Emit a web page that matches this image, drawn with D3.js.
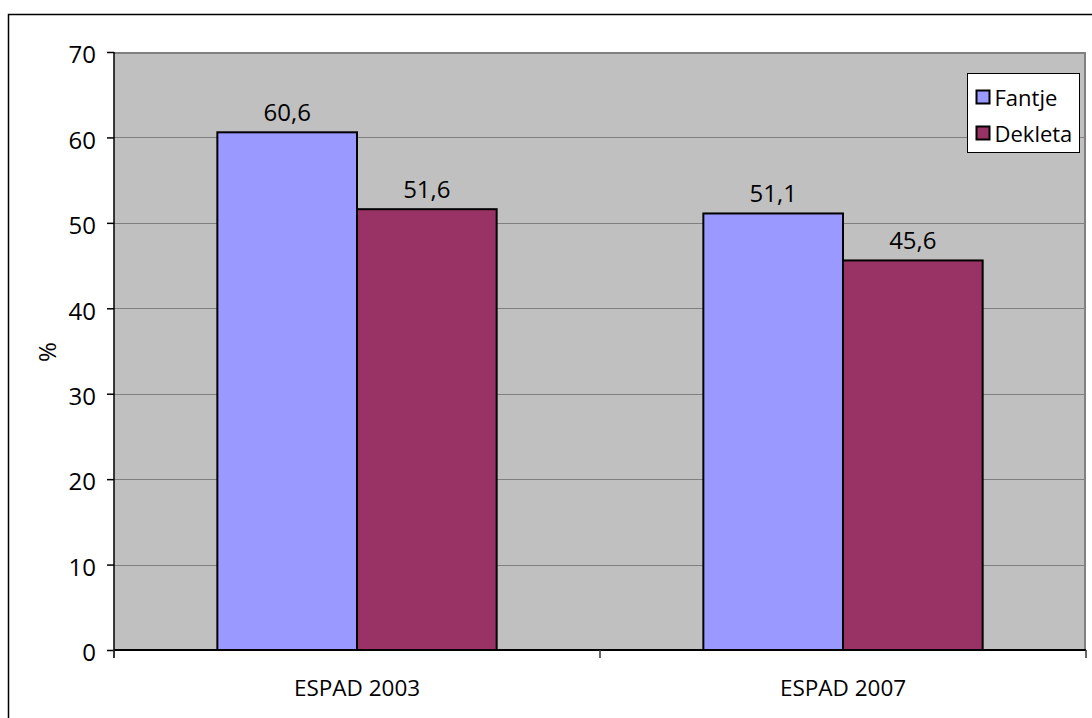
<!DOCTYPE html>
<html>
<head>
<meta charset="utf-8">
<script src="https://cdn.jsdelivr.net/npm/d3@7"></script>
<style>
  body { margin: 0; background: #fff; }
  text { font-family: "Open Sans", "DejaVu Sans", sans-serif; fill: #000; }
</style>
</head>
<body>
<svg width="1092" height="718"></svg>
<script>
"use strict";

var categories = ["ESPAD 2003", "ESPAD 2007"];
var seriesNames = ["Fantje", "Dekleta"];
var fantje = [60.6, 51.1];
var dekleta = [51.6, 45.6];
var yTicks = [0, 10, 20, 30, 40, 50, 60, 70];

var colors = { "Fantje": "#9999ff", "Dekleta": "#993366" };

var svg = d3.select("svg");

// outer chart frame, runs off the right and bottom edge
svg.append("rect").attr("x", 8.5).attr("y", 14.5).attr("width", 1200).attr("height", 800)
  .attr("fill", "#fff").attr("stroke", "#000").attr("stroke-width", 1.5);

var plot = { left: 114, top: 52, right: 1086, bottom: 650 };

var x0 = d3.scaleBand().domain(categories).range([plot.left, plot.right]).paddingInner(0).paddingOuter(0);
var x1 = d3.scaleBand().domain(seriesNames).range([0, x0.bandwidth()]).paddingInner(0).paddingOuter(0.74);
var y = d3.scaleLinear().domain([0, 70]).range([plot.bottom, plot.top]);

// plot background
svg.append("rect").attr("x", plot.left).attr("y", plot.top)
  .attr("width", plot.right - plot.left).attr("height", plot.bottom - plot.top)
  .attr("fill", "#c0c0c0");

// gridlines
svg.append("g").selectAll("line").data(yTicks.slice(1, -1)).enter().append("line")
  .attr("x1", plot.left).attr("x2", plot.right)
  .attr("y1", function (d) { return Math.round(y(d)) + 0.5; })
  .attr("y2", function (d) { return Math.round(y(d)) + 0.5; })
  .attr("stroke", "#808080").attr("stroke-width", 1);

// plot border top/right
svg.append("path")
  .attr("d", "M" + plot.left + "," + (plot.top + 1) + "H" + (plot.right - 1) + "V" + plot.bottom)
  .attr("fill", "none").attr("stroke", "#808080").attr("stroke-width", 2);

var rows = seriesNames.map(function (s, i) {
  var vals = i === 0 ? fantje : dekleta;
  return categories.map(function (c, j) { return { cat: c, series: s, value: vals[j] }; });
});
var flat = d3.merge(rows);

// bars
svg.append("g").selectAll("rect").data(flat).enter().append("rect")
  .attr("x", function (d) { return x0(d.cat) + x1(d.series); })
  .attr("y", function (d) { return y(d.value); })
  .attr("width", x1.bandwidth())
  .attr("height", function (d) { return plot.bottom - y(d.value); })
  .attr("fill", function (d) { return colors[d.series]; })
  .attr("stroke", "#000").attr("stroke-width", 2);

// value labels
svg.append("g").selectAll("text").data(flat).enter().append("text")
  .attr("x", function (d) { return x0(d.cat) + x1(d.series) + x1.bandwidth() / 2; })
  .attr("y", function (d) { return y(d.value) - 11; })
  .attr("text-anchor", "middle").attr("font-size", 24)
  .text(function (d) { return d3.format(".1f")(d.value).replace(".", ","); });

// y axis
var yAxis = svg.append("g").attr("transform", "translate(" + plot.left + ",0)")
  .call(d3.axisLeft(y).tickValues(yTicks).tickSize(7).tickSizeOuter(0).tickPadding(11));
yAxis.selectAll("text").attr("font-size", 24).attr("fill", "#000").attr("dy", "0.45em")
  .style("font-family", "'Open Sans', 'DejaVu Sans', sans-serif");
yAxis.selectAll("line, path").attr("stroke", "#000").attr("stroke-width", 1.5);
yAxis.select("path").attr("d", "M0," + plot.top + "V" + (plot.bottom + 8));

// x axis
var xAxis = svg.append("g").attr("transform", "translate(0," + plot.bottom + ")");
xAxis.append("line").attr("x1", plot.left).attr("x2", plot.right)
  .attr("stroke", "#000").attr("stroke-width", 2);
xAxis.selectAll("line.tk").data([plot.left, x0(categories[1]), plot.right]).enter().append("line")
  .attr("class", "tk")
  .attr("x1", function (d) { return d; }).attr("x2", function (d) { return d; })
  .attr("y1", 0).attr("y2", 8).attr("stroke", "#333").attr("stroke-width", 1.5);
xAxis.selectAll("text").data(categories).enter().append("text")
  .attr("x", function (d) { return x0(d) + x0.bandwidth() / 2; })
  .attr("y", 46).attr("text-anchor", "middle").attr("font-size", 22.5)
  .text(function (d) { return d; });

// y label
svg.append("text").attr("transform", "translate(56,352) rotate(-90)")
  .attr("text-anchor", "middle").attr("font-size", 24).text("%");

// legend
var legend = svg.append("g").attr("transform", "translate(967.5,73.5)");
legend.append("rect").attr("width", 112).attr("height", 79)
  .attr("fill", "#fff").attr("stroke", "#000").attr("stroke-width", 1);
var item = legend.selectAll("g").data(seriesNames).enter().append("g")
  .attr("transform", function (d, i) { return "translate(9," + (17 + i * 36) + ")"; });
item.append("rect").attr("width", 13).attr("height", 13)
  .attr("fill", function (d) { return colors[d]; })
  .attr("stroke", "#000").attr("stroke-width", 2);
item.append("text").attr("x", 18).attr("y", 15).attr("font-size", 22)
  .text(function (d) { return d; });
</script>
</body>
</html>
